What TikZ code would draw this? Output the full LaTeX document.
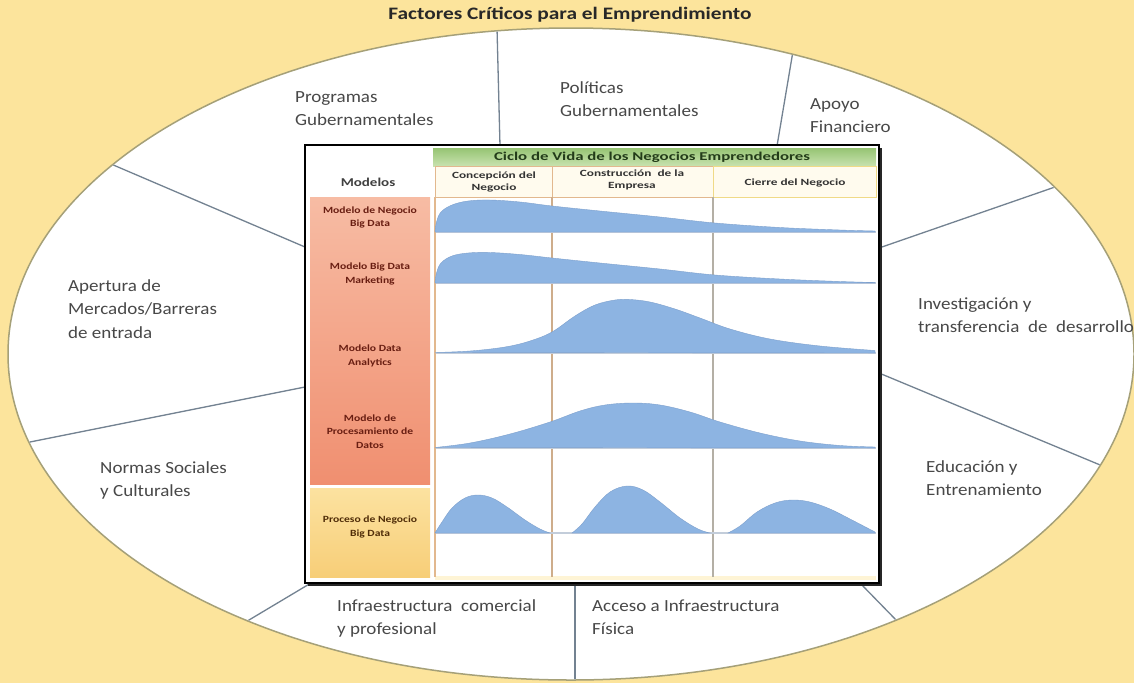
\documentclass[tikz,border=0pt]{standalone}
\usepackage{fontspec}
\setmainfont{Carlito}
\newcommand{\hsx}[2]{\scalebox{#1}[1]{#2}}
\newcommand{\lstack}[1]{\begin{tabular}[t]{@{}l@{}}#1\end{tabular}}
\newcommand{\cstack}[1]{\begin{tabular}{@{}c@{}}#1\end{tabular}}
\definecolor{bgyellow}{RGB}{252,228,156}
\definecolor{ellborder}{RGB}{165,160,120}
\definecolor{divline}{RGB}{115,130,145}
\definecolor{labelgray}{RGB}{72,72,72}
\definecolor{titlegray}{RGB}{40,40,40}
\definecolor{curveblue}{RGB}{141,180,226}
\definecolor{curveedge}{RGB}{125,160,205}
\definecolor{salmontop}{RGB}{247,188,164}
\definecolor{salmonbot}{RGB}{240,143,112}
\definecolor{yeltop}{RGB}{252,226,160}
\definecolor{yelbot}{RGB}{247,206,120}
\definecolor{greentop}{RGB}{150,196,115}
\definecolor{greenbot}{RGB}{200,226,175}
\definecolor{tanline}{RGB}{226,184,142}
\definecolor{grayline}{RGB}{180,175,165}
\definecolor{paleline}{RGB}{240,218,135}
\definecolor{baseblue}{RGB}{195,205,218}
\definecolor{maroon}{RGB}{105,30,18}
\definecolor{darkbrown}{RGB}{80,45,8}
\definecolor{darkgreen}{RGB}{35,60,25}
\definecolor{cream}{RGB}{255,251,238}
\tikzset{
  outerlabel/.style={anchor=base west, inner sep=0pt, text=labelgray,
    font=\fontsize{17}{23.5}\selectfont},
  titlelabel/.style={inner sep=0pt, text=titlegray, font=\fontsize{17.5}{20}\selectfont\bfseries},
  divider/.style={draw=divline, line width=1.3pt, shorten >=-12pt},
  cellsalmon/.style={inner sep=0pt, text=maroon, font=\fontsize{9.5}{13.5}\selectfont\bfseries},
  cellyellow/.style={inner sep=0pt, text=darkbrown, font=\fontsize{9.5}{13.5}\selectfont\bfseries},
  headtext/.style={inner sep=0pt, text=black!80, font=\fontsize{9.5}{12.5}\selectfont\bfseries},
  curve/.style={fill=curveblue, draw=curveedge, line width=0.4pt},
  baseln/.style={draw=baseblue, line width=1.4pt},
}
\begin{document}
\begin{tikzpicture}[x=1pt,y=-1pt]
\useasboundingbox (0,0) rectangle (1134,683);
\fill[bgyellow] (0,0) rectangle (1134,683);
% ellipse
\draw[fill=white, draw=ellborder, line width=1.5pt] (571,354) ellipse [x radius=563, y radius=326];
% divider end points
\coordinate (d1a) at (500,146); \coordinate (d1b) at (497,28);
\coordinate (d2a) at (777,146); \coordinate (d2b) at (792,57);
\coordinate (d3a) at (879,248); \coordinate (d3b) at (1055,187);
\coordinate (d4a) at (879,373); \coordinate (d4b) at (1105,467);
\coordinate (d5a) at (860,583); \coordinate (d5b) at (898,622);
\coordinate (d6a) at (575,583); \coordinate (d6b) at (575,680);
\coordinate (d7a) at (311,583); \coordinate (d7b) at (249,620);
\coordinate (d8a) at (305,387); \coordinate (d8b) at (40,440);
\coordinate (d9a) at (305,247); \coordinate (d9b) at (118,167);
\begin{scope}
  \clip (571,354) ellipse [x radius=562, y radius=325];
  \foreach \i in {1,...,9} { \draw[divider] (d\i a) -- (d\i b); }
\end{scope}
% title
\node[titlelabel] (title) at (570,15) {\hsx{1.22}{Factores Críticos para el Emprendimiento}};
% outer labels
\node[outerlabel] (prog) at (295,102) {\hsx{1.12}{\lstack{Programas\\Gubernamentales}}};
\node[outerlabel] (polit) at (560,93) {\hsx{1.12}{\lstack{Políticas\\Gubernamentales}}};
\node[outerlabel] (apoyo) at (810,109) {\hsx{1.12}{\lstack{Apoyo\\Financiero}}};
\node[outerlabel] (apert) at (68,291) {\hsx{1.12}{\lstack{Apertura de\\Mercados/Barreras\\de entrada}}};
\node[outerlabel] (invest) at (918,309) {\hsx{1.12}{\lstack{Investigación y\\transferencia\ \ de\ \ desarrollo}}};
\node[outerlabel] (normas) at (100,473) {\hsx{1.12}{\lstack{Normas Sociales\\y Culturales}}};
\node[outerlabel] (educ) at (926,472) {\hsx{1.12}{\lstack{Educación y\\Entrenamiento}}};
\node[outerlabel] (infra) at (337,611) {\hsx{1.12}{\lstack{Infraestructura\ \ comercial\\y profesional}}};
\node[outerlabel] (acceso) at (592,611) {\hsx{1.12}{\lstack{Acceso a Infraestructura\\Física}}};
% inner box with shadow
\fill[black!85] (308,148) rectangle (882,586);
\fill[white] (305,145) rectangle (879,583);
% green header
\shade[top color=greentop, bottom color=greenbot] (433,148) rectangle (876,166);
% sub headers
\draw[tanline, fill=cream, line width=1pt] (435,166) rectangle (552,197);
\draw[tanline, fill=cream, line width=1pt] (552,166) rectangle (713,197);
\draw[paleline, fill=cream, line width=1pt] (713,166) rectangle (876,197);
% left column
\shade[top color=salmontop, bottom color=salmonbot] (310,197) rectangle (430,484);
\shade[top color=yeltop, bottom color=yelbot] (310,488) rectangle (430,577);
% bottom strip
\fill[cream!70!bgyellow] (435,576) rectangle (876,580);
% grid verticals
\draw[tanline, line width=1.2pt] (435,197) -- (435,577);
\draw[tanline!80!gray, line width=1.1pt] (552,197) -- (552,577);
\draw[grayline, line width=1.1pt] (713,197) -- (713,577);
% baselines
\foreach \yy in {232,283,353,448,533} { \draw[baseln] (436,\yy) -- (876,\yy); }
% curves
\filldraw[curve] plot[smooth, tension=0.6] coordinates {(435,232) (436.5,222) (441,212) (452,205) (468,201) (490,200) (520,202) (552,206) (600,211) (660,217) (715,223) (780,227.5) (840,230) (875,231)} -- (875,232) -- cycle;
\filldraw[curve] plot[smooth, tension=0.6] coordinates {(435,283) (436.5,273) (441,263) (452,256) (468,253) (490,252.5) (520,254.5) (552,258) (600,263) (660,269) (715,275) (780,279) (840,281.5) (875,282.5)} -- (875,283) -- cycle;
\filldraw[curve] plot[smooth, tension=0.6] coordinates {(435,352.5) (470,351) (505,347) (530,341) (552,332) (575,316) (595,305) (615,300) (630,299.5) (650,302) (675,309) (700,318) (730,329) (770,339) (820,346) (875,350.5)} -- (875,353) -- cycle;
\filldraw[curve] plot[smooth, tension=0.6] coordinates {(435,447.5) (470,443) (510,434) (550,422) (580,411) (605,405) (633,403) (660,405) (690,412) (720,422) (760,433) (800,441) (840,445.5) (875,447)} -- (875,448) -- cycle;
\filldraw[curve] plot[smooth, tension=0.6] coordinates {(435,533) (442,522) (452,508) (465,498) (478,495) (492,498) (507,507) (525,520) (540,529) (550,533)} -- cycle;
\filldraw[curve] plot[smooth, tension=0.6] coordinates {(572,533) (582,524) (595,507) (610,492) (627,486) (643,490) (660,502) (680,518) (698,529) (710,533)} -- cycle;
\filldraw[curve] plot[smooth, tension=0.6] coordinates {(728,533) (740,526) (757,512) (775,503) (792,500) (810,502) (830,509) (850,519) (875,532)} -- (875,533) -- cycle;
% box border
\draw[black, line width=2.5pt] (305,145) rectangle (879,583);
% header texts
\node[inner sep=0pt, text=black!75, font=\fontsize{12}{14}\selectfont\bfseries] (modelos) at (368,182) {\hsx{1.25}{Modelos}};
\node[inner sep=0pt, text=darkgreen, font=\fontsize{12}{14}\selectfont\bfseries] (ciclo) at (652,157) {\hsx{1.4}{Ciclo de Vida de los Negocios Emprendedores}};
\node[headtext] (concep) at (494,182) {\hsx{1.4}{\cstack{Concepción del\\Negocio}}};
\node[headtext] (constr) at (632,180) {\hsx{1.4}{\cstack{Construcción\ \ de la\\Empresa}}};
\node[headtext] (cierre) at (795,183) {\hsx{1.4}{Cierre del Negocio}};
% model texts
\node[cellsalmon] (m1) at (370,217.5) {\hsx{1.22}{\cstack{Modelo de Negocio\\Big Data}}};
\node[cellsalmon] (m2) at (370,274) {\hsx{1.22}{\cstack{Modelo Big Data\\Marketing}}};
\node[cellsalmon] (m3) at (370,356) {\hsx{1.22}{\cstack{Modelo Data\\Analytics}}};
\node[cellsalmon] (m4) at (370,432) {\hsx{1.22}{\cstack{Modelo de\\Procesamiento de\\Datos}}};
\node[cellyellow] (m5) at (370,527) {\hsx{1.22}{\cstack{Proceso de Negocio\\Big Data}}};
\end{tikzpicture}
\end{document}
